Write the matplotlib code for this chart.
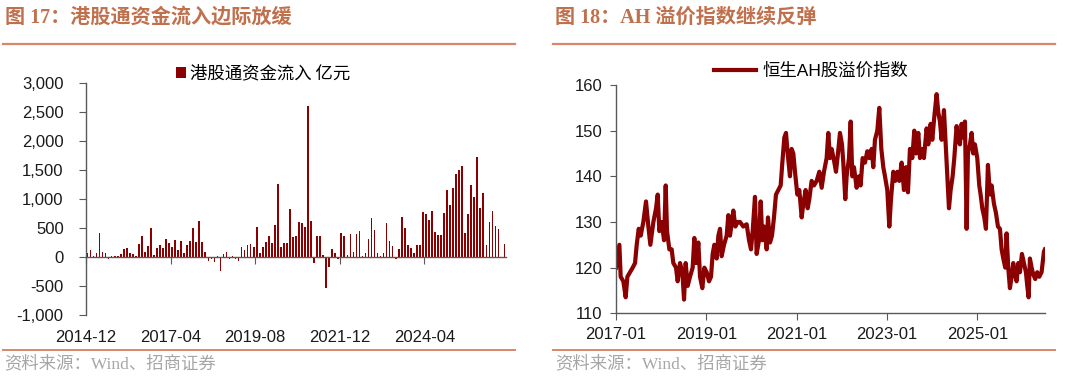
import matplotlib
matplotlib.use('Agg')
import matplotlib.pyplot as plt
from matplotlib.lines import Line2D
from matplotlib.patches import Patch
import numpy as np

plt.rcParams['font.family'] = ['Liberation Sans', 'Noto Sans CJK SC']
plt.rcParams['axes.unicode_minus'] = False

# ---- data: Southbound monthly net inflow (100m CNY), 2014-12 .. 2026-06
flow_start = '2014-12'
flow_values = [
    70, 115, 10, 75, 415, 90, 65, -40, 10, 15,
    20, 50, 140, 150, 65, 50, 10, 225, 365, 85,
    190, 500, 30, 165, 215, 165, 315, 235, 180, 290,
    125, 285, 65, 210, 285, 495, 255, 625, 255, 80,
    -60, -40, -90, 10, -245, 60, 85, -40, 25, -30,
    -70, 170, 115, 200, 230, 170, 525, 70, 170, 260,
    365, 250, 550, 1270, 175, 240, 235, 825, 340, 365,
    610, 595, 520, 2600, 615, -100, 360, 360, 30, -530,
    -170, 145, 70, -30, 410, 360, 30, 395, 85, 395,
    455, 15, 75, 305, 675, 460, 75, 10, 75, 590,
    270, 195, -40, 140, 700, 500, 215, 165, 70, 200,
    215, 780, 740, 645, 800, 435, 380, 380, 765, 1160,
    895, 1195, 1435, 1500, 1575, 415, 735, 1240, 1030, 1730,
    850, 1110, 200, 610, 800, 540, 490, -20, 230,
]
flow_ticks = ['2014-12', '2017-04', '2019-08', '2021-12', '2024-04']
flow_tick_step = 28

# ---- data: Hang Seng AH premium index (years since 2017-01)
ah_t = [
    0.000, 0.074, 0.103, 0.162, 0.214, 0.251, 0.310, 0.369, 0.421, 0.458,
    0.502, 0.546, 0.605, 0.664, 0.716, 0.760, 0.827, 0.886, 0.923, 0.959,
    1.011, 1.063, 1.100, 1.129, 1.181, 1.232, 1.269, 1.328, 1.365, 1.417,
    1.469, 1.506, 1.542, 1.587, 1.638, 1.697, 1.734, 1.771, 1.823, 1.860,
    1.911, 1.956, 2.007, 2.059, 2.103, 2.140, 2.177, 2.229, 2.266, 2.303,
    2.339, 2.391, 2.450, 2.487, 2.524, 2.598, 2.642, 2.694, 2.745, 2.819,
    2.893, 2.945, 2.989, 3.026, 3.077, 3.114, 3.166, 3.203, 3.240, 3.284,
    3.336, 3.365, 3.410, 3.454, 3.498, 3.542, 3.594, 3.646, 3.683, 3.727,
    3.764, 3.801, 3.852, 3.889, 3.926, 3.963, 4.015, 4.059, 4.111, 4.148,
    4.199, 4.244, 4.280, 4.332, 4.384, 4.443, 4.502, 4.554, 4.605, 4.664,
    4.701, 4.738, 4.775, 4.827, 4.871, 4.915, 4.959, 5.004, 5.033, 5.077,
    5.107, 5.159, 5.196, 5.232, 5.269, 5.328, 5.380, 5.417, 5.461, 5.513,
    5.565, 5.609, 5.661, 5.697, 5.734, 5.786, 5.830, 5.875, 5.919, 5.956,
    6.007, 6.052, 6.089, 6.140, 6.185, 6.229, 6.273, 6.325, 6.376, 6.421,
    6.465, 6.509, 6.561, 6.605, 6.642, 6.694, 6.731, 6.782, 6.819, 6.878,
    6.915, 6.967, 7.004, 7.048, 7.100, 7.137, 7.173, 7.210, 7.262, 7.306,
    7.336, 7.373, 7.410, 7.454, 7.491, 7.542, 7.579, 7.616, 7.653, 7.690,
    7.727, 7.764, 7.793, 7.838, 7.875, 7.911, 7.948, 8.000, 8.044, 8.074,
    8.111, 8.155, 8.192, 8.236, 8.280, 8.317, 8.369, 8.413, 8.458, 8.502,
    8.539, 8.576, 8.620, 8.649, 8.686, 8.723, 8.760, 8.797, 8.834, 8.871,
    8.908, 8.945, 8.989, 9.033, 9.077, 9.107, 9.137, 9.166, 9.203, 9.240,
    9.284, 9.328, 9.373, 9.424, 9.476, 9.498,
]
ah_values = [
    120, 125, 118, 117, 113.5, 118, 119, 120, 121, 125,
    128.5, 127, 130, 134.5, 129, 125, 130, 133, 136, 128,
    130, 126, 138, 128, 124, 124, 121, 120, 117, 121,
    119, 113, 121, 116, 118, 120, 126.5, 121, 125.5, 118,
    115.5, 120, 119, 117, 118, 123, 125, 122, 127, 128.5,
    122.5, 125, 127, 131.5, 127, 132.5, 129, 130, 130, 129,
    129.5, 126, 124, 128, 135.5, 123, 126, 134.5, 126, 129,
    124, 131, 125.5, 127, 131, 136, 137, 138, 143, 148.5,
    149.5, 145, 140, 146, 145, 141, 136, 137, 131, 134,
    137, 133, 135, 139, 138, 139, 141, 137.5, 141, 144,
    149.5, 144, 146, 143.5, 141, 145, 149.5, 147, 143, 135,
    140, 144, 152, 140, 142, 137.5, 140, 138, 144, 143,
    145.5, 144, 146, 142, 148, 150, 155, 146, 142, 140,
    137, 129, 135, 141, 139, 141, 139, 143, 137, 142,
    136.5, 146, 144, 150, 145, 149.5, 144, 146, 144, 150.5,
    147, 151.5, 148, 153, 158, 154, 152, 148, 154.5, 146,
    140, 133, 137, 140, 144, 151, 148, 147, 151.5, 148.5,
    152, 128.5, 145, 147, 149.5, 145, 147, 144, 138, 136,
    133, 131, 128.5, 142.5, 136, 138, 134, 132, 129, 128.5,
    124, 122, 120, 127.5, 120, 115.5, 118, 121, 118.5, 117,
    121, 119, 123, 121, 119, 116, 113.5, 122, 120, 118.5,
    117.5, 119, 118, 119, 123.5, 124,
]
ah_start_year = 2017
ah_tick_years = [2017, 2019, 2021, 2023, 2025]

red = '#8B0000'
title_color = '#C0704C'
rule_color = '#D9866A'
axis_color = '#595959'

fig = plt.figure(figsize=(10.8, 3.77), dpi=100)
fig.patch.set_facecolor('white')

# ---------------- left: bar chart ----------------
ax1 = fig.add_axes([0.0796, 0.1645, 0.3889, 0.6145])
x = np.arange(len(flow_values))
ax1.bar(x, flow_values, width=0.55, color=red, edgecolor='none')
ax1.set_xlim(-0.5, len(flow_values) - 0.5)
ax1.set_ylim(-1000, 3000)
ax1.set_yticks(np.arange(-1000, 3001, 500))
ax1.set_yticklabels([f'{v:,}' for v in range(-1000, 3001, 500)])
ax1.spines['top'].set_visible(False)
ax1.spines['right'].set_visible(False)
ax1.spines['bottom'].set_position(('data', 0))
for s in ('left', 'bottom'):
    ax1.spines[s].set_color(axis_color)
    ax1.spines[s].set_linewidth(1.0)
tick_pos = [i * flow_tick_step - 0.5 for i in range(len(flow_ticks))]
ax1.set_xticks(tick_pos)
ax1.tick_params(axis='x', direction='out', length=5, color=axis_color, labelbottom=False)
ax1.tick_params(axis='y', direction='out', length=5, color=axis_color, pad=11,
                labelsize=12, labelcolor='#1a1a1a')
for p, lab in zip(tick_pos, flow_ticks):
    ax1.text(p, -0.065, lab, transform=ax1.get_xaxis_transform(), ha='center', va='top',
             fontsize=12, color='#1a1a1a')
ax1.legend(handles=[Patch(facecolor=red, edgecolor='none', label='港股通资金流入 亿元')],
           loc='center', bbox_to_anchor=(0.2435, 0.806), bbox_transform=fig.transFigure,
           frameon=False, handlelength=0.6, handleheight=0.6, handletextpad=0.2,
           borderpad=0, prop={'family': ['Noto Sans CJK SC'], 'size': 12.5})

# ---------------- right: line chart ----------------
ax2 = fig.add_axes([0.5704, 0.1690, 0.3972, 0.6055])
ah_x = [ah_start_year + t for t in ah_t]
ax2.plot(ah_x, ah_values, color=red, linewidth=3.0, solid_joinstyle='round',
         label='恒生AH股溢价指数')
ax2.set_xlim(ah_start_year, ah_start_year + 9.5)
ax2.set_ylim(110, 160)
ax2.set_yticks(np.arange(110, 161, 10))
ax2.set_xticks(ah_tick_years)
ax2.set_xticklabels([f'{y}-01' for y in ah_tick_years])
ax2.spines['top'].set_visible(False)
ax2.spines['right'].set_visible(False)
for s in ('left', 'bottom'):
    ax2.spines[s].set_color(axis_color)
    ax2.spines[s].set_linewidth(1.0)
ax2.tick_params(axis='x', direction='out', length=5, color=axis_color, pad=5,
                labelsize=12, labelcolor='#1a1a1a')
ax2.tick_params(axis='y', direction='out', length=4, color=axis_color, pad=6,
                labelsize=12, labelcolor='#1a1a1a')
ax2.legend(loc='center', bbox_to_anchor=(0.751, 0.812), bbox_transform=fig.transFigure,
           frameon=False, handlelength=2.4, handletextpad=0.4, borderpad=0,
           prop={'family': ['Liberation Sans', 'Noto Sans CJK SC'], 'size': 12.5})

# ---------------- titles, rules, sources ----------------
title_font = ['Liberation Serif', 'Noto Sans CJK SC']
fig.text(0.005, 0.953, '图 17：港股通资金流入边际放缓', fontsize=14.5, fontweight='bold',
         color=title_color, family=title_font, va='center', ha='left')
fig.text(0.514, 0.953, '图 18：AH 溢价指数继续反弹', fontsize=14.5, fontweight='bold',
         color=title_color, family=title_font, va='center', ha='left')

for x0, x1 in ((0.003, 0.477), (0.512, 0.977)):
    fig.add_artist(Line2D([x0, x1], [1 - 44 / 377] * 2, color=rule_color, linewidth=1.6))
    fig.add_artist(Line2D([x0, x1], [1 - 350 / 377] * 2, color=rule_color, linewidth=1.4))

src_font = ['Liberation Serif', 'Noto Sans CJK SC']
fig.text(0.004, 1 - 364 / 377, '资料来源：Wind、招商证券', fontsize=12.5, color='#A6A6A6',
         family=src_font, va='center', ha='left')
fig.text(0.514, 1 - 364 / 377, '资料来源：Wind、招商证券', fontsize=12.5, color='#A6A6A6',
         family=src_font, va='center', ha='left')

plt.savefig('out.png', dpi=100)
plt.close()
